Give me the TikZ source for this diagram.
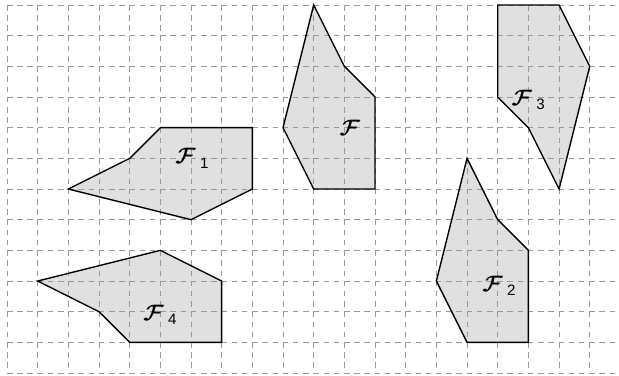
\documentclass[tikz,border=0pt]{standalone}
\usepackage{bm}
\usepackage{fontspec}
\newfontfamily\digitfont{Liberation Sans}
\newcommand{\figlab}[1]{{\fontsize{21}{21}\selectfont$\bm{\mathcal{F}}$}\ifx&#1&\else\hspace{4pt}\raisebox{-4pt}{\fontsize{14}{14}\selectfont\digitfont #1}\fi}
\begin{document}
\begin{tikzpicture}[x=1cm, y=-1cm,
  gridline/.style={draw=black!40, line width=0.75pt, dash pattern=on 0.18cm off 0.153cm},
  facefill/.style={fill=black!12},
  faceline/.style={draw=black, line width=1.3pt, line join=miter},
  lab/.style={inner sep=0pt}]
\useasboundingbox (-0.228,-0.163) rectangle (19.954,12.096);
% fills
\fill[facefill] (10,0)--(11,2)--(12,3)--(12,6)--(10,6)--(9,4)--cycle;
\fill[facefill] (5,4)--(8,4)--(8,6)--(6,7)--(2,6)--(4,5)--cycle;
\fill[facefill] (16,0)--(18,0)--(19,2)--(18,6)--(17,4)--(16,3)--cycle;
\fill[facefill] (15,5)--(16,7)--(17,8)--(17,11)--(15,11)--(14,9)--cycle;
\fill[facefill] (5,8)--(7,9)--(7,11)--(4,11)--(3,10)--(1,9)--cycle;
% grid
\foreach \r in {0,...,12} \draw[gridline] (0,\r) -- (19.954,\r);
\foreach \c in {0,...,19} \draw[gridline] (\c,0) -- (\c,12);
% outlines
\draw[faceline] (10,0)--(11,2)--(12,3)--(12,6)--(10,6)--(9,4)--cycle;
\draw[faceline] (5,4)--(8,4)--(8,6)--(6,7)--(2,6)--(4,5)--cycle;
\draw[faceline] (16,0)--(18,0)--(19,2)--(18,6)--(17,4)--(16,3)--cycle;
\draw[faceline] (15,5)--(16,7)--(17,8)--(17,11)--(15,11)--(14,9)--cycle;
\draw[faceline] (5,8)--(7,9)--(7,11)--(4,11)--(3,10)--(1,9)--cycle;
% labels
\node[lab] (lf)  at (11.18,4.01) {\figlab{}};
\node[lab] (lf1) at (6.03,5.0)  {\figlab{1}};
\node[lab] (lf3) at (16.99,3.1) {\figlab{3}};
\node[lab] (lf2) at (16.04,9.16) {\figlab{2}};
\node[lab] (lf4) at (4.99,10.1) {\figlab{4}};
\end{tikzpicture}
\end{document}
